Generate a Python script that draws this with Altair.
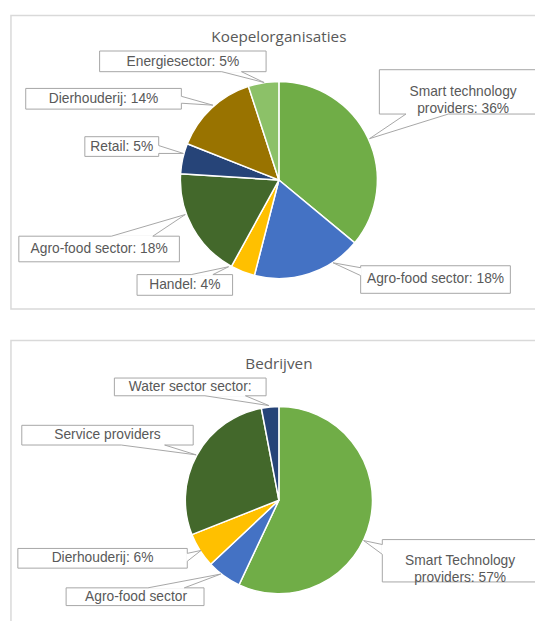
import altair as alt
import pandas as pd

# ---------------- data ----------------
top_title = "Koepelorganisaties"
top_categories = ["Smart technology providers", "Agro-food sector", "Handel",
                  "Agro-food sector", "Retail", "Dierhouderij", "Energiesector"]
top_values = [36, 18, 4, 18, 5, 14, 5]
top_label_texts = ["Smart technology\nproviders: 36%", "Agro-food sector: 18%", "Handel: 4%",
                   "Agro-food sector: 18%", "Retail: 5%", "Dierhouderij: 14%", "Energiesector: 5%"]

bottom_title = "Bedrijven"
bottom_categories = ["Smart Technology providers", "Agro-food sector", "Dierhouderij",
                     "Service providers", "Water sector sector"]
bottom_values = [57, 6, 6, 28, 3]
bottom_label_texts = ["Smart Technology\nproviders: 57%", "Agro-food sector", "Dierhouderij: 6%",
                      "Service providers", "Water sector sector:"]

# ---------------- styles / layout ----------------
top_colors = ["#70AD47", "#4472C4", "#FFC000", "#43682B", "#264478", "#997300", "#8CC168"]
bottom_colors = ["#70AD47", "#4472C4", "#FFC000", "#43682B", "#264478"]

OFF = 8  # page margin
TEXT_COLOR = "#595959"
LABEL_FONT = "Liberation Sans"
TITLE_FONT = "Open Sans"

# pie centres / radii (page pixels)
top_center, top_radius = (283, 178), 100
bottom_center, bottom_radius = (283, 503), 95

# frames: x1, y1, x2, y2
frames = [(11, 11, 565, 309), (11, 341, 565, 640)]
titles = [(top_title, 283, 33), (bottom_title, 283, 365)]

# callouts: box (x1,y1,x2,y2), text centre (cx,cy), base1, base2, tip
top_callouts = [
    ((385, 66, 555, 111), (470, 89), (412, 111), (455, 111), (375, 136)),
    ((366, 265, 518, 293), (442, 279), (366, 267), (366, 275), (338, 262)),
    ((139, 274, 236, 295), (187.5, 284.5), (194, 274), (216, 274), (232, 266)),
    ((19, 235, 182, 261), (100.5, 248), (113, 235), (155, 235), (188, 213)),
    ((86, 134, 161, 154), (123.5, 144.5), (161, 143), (161, 151), (186, 151)),
    ((26, 85, 184, 106), (105, 95.5), (184, 93), (184, 100), (216, 102)),
    ((101, 47, 270, 68), (185.5, 58), (225, 68), (245, 68), (268, 79)),
]
bottom_callouts = [
    ((388, 543, 546, 586), (467, 565), (388, 548), (388, 558), (369, 544)),
    ((67, 592, 207, 610), (138, 601), (150, 592), (187, 592), (224, 578)),
    ((18, 552, 190, 572), (104, 562), (190, 557), (190, 565), (204, 554)),
    ((22, 427, 196, 447), (109, 437), (123, 447), (167, 447), (199, 457)),
    ((116, 379, 270, 397), (193, 388), (208, 397), (249, 397), (273, 407)),
]


def px(v):
    return v - OFF


def Q(field):
    return alt.X(field + ":Q", scale=None)


def QY(field):
    return alt.Y(field + ":Q", scale=None)


# ---------------- tables ----------------
frame_df = pd.DataFrame([dict(x1=px(a), y1=px(b), x2=px(c), y2=px(d)) for a, b, c, d in frames])
title_df = pd.DataFrame([dict(t=t, x=px(x), y=px(y)) for t, x, y in titles])

top_df = pd.DataFrame(dict(cat=top_categories, value=top_values, color=top_colors,
                           idx=list(range(len(top_values)))))
bottom_df = pd.DataFrame(dict(cat=bottom_categories, value=bottom_values, color=bottom_colors,
                              idx=list(range(len(bottom_values)))))

rows = []
for texts, calls in ((top_label_texts, top_callouts), (bottom_label_texts, bottom_callouts)):
    for t, (box, tc, b1, b2, tip) in zip(texts, calls):
        rows.append(dict(
            label=t,
            x1=px(box[0]), y1=px(box[1]), x2=px(box[2]), y2=px(box[3]),
            tx=px(tc[0]), ty=px(tc[1]),
            b1x=px(b1[0]), b1y=px(b1[1]), b2x=px(b2[0]), b2y=px(b2[1]),
            px_=px(tip[0]), py_=px(tip[1]),
        ))
call_df = pd.DataFrame(rows)

# ---------------- layers ----------------
frame_layer = alt.Chart(frame_df).mark_rect(fill="white", stroke="#D9D9D9", strokeWidth=1.5).encode(
    x=Q("x1"), x2="x2", y=QY("y1"), y2="y2")

title_layer = alt.Chart(title_df).mark_text(
    font=TITLE_FONT, fontSize=15.5, color=TEXT_COLOR, align="center", baseline="middle").encode(
    x=Q("x"), y=QY("y"), text="t:N")


def pie(df, center, radius):
    return alt.Chart(df).mark_arc(radius=radius, stroke="white", strokeWidth=1.5).encode(
        theta=alt.Theta("value:Q", stack=True, scale=alt.Scale(domain=[0, 100])),
        color=alt.Color("color:N", scale=None),
        order=alt.Order("idx:Q"),
        x=alt.value(px(center[0])),
        y=alt.value(px(center[1])),
    )


top_pie = pie(top_df, top_center, top_radius)
bottom_pie = pie(bottom_df, bottom_center, bottom_radius)

box_layer = alt.Chart(call_df).mark_rect(fill="white", stroke="#A6A6A6", strokeWidth=1).encode(
    x=Q("x1"), x2="x2", y=QY("y1"), y2="y2")

gap_layer = alt.Chart(call_df).mark_rule(color="white", strokeWidth=2).encode(
    x=Q("b1x"), x2="b2x", y=QY("b1y"), y2="b2y")

lead1 = alt.Chart(call_df).mark_rule(color="#A6A6A6", strokeWidth=1).encode(
    x=Q("b1x"), x2="px_", y=QY("b1y"), y2="py_")
lead2 = alt.Chart(call_df).mark_rule(color="#A6A6A6", strokeWidth=1).encode(
    x=Q("b2x"), x2="px_", y=QY("b2y"), y2="py_")

label_layer = alt.Chart(call_df).mark_text(
    font=LABEL_FONT, fontSize=14, color=TEXT_COLOR, align="center", baseline="middle",
    lineBreak="\n", lineHeight=17).encode(
    x=Q("tx"), y=QY("ty"), text="label:N")

chart = alt.layer(
    frame_layer, title_layer, top_pie, bottom_pie,
    box_layer, gap_layer, lead1, lead2, label_layer,
).properties(
    width=535, height=613, autosize=alt.AutoSizeParams(type="none"), padding=0,
).configure_view(stroke=None)

chart.save("out.html", embed_options={"renderer": "svg", "actions": False})
